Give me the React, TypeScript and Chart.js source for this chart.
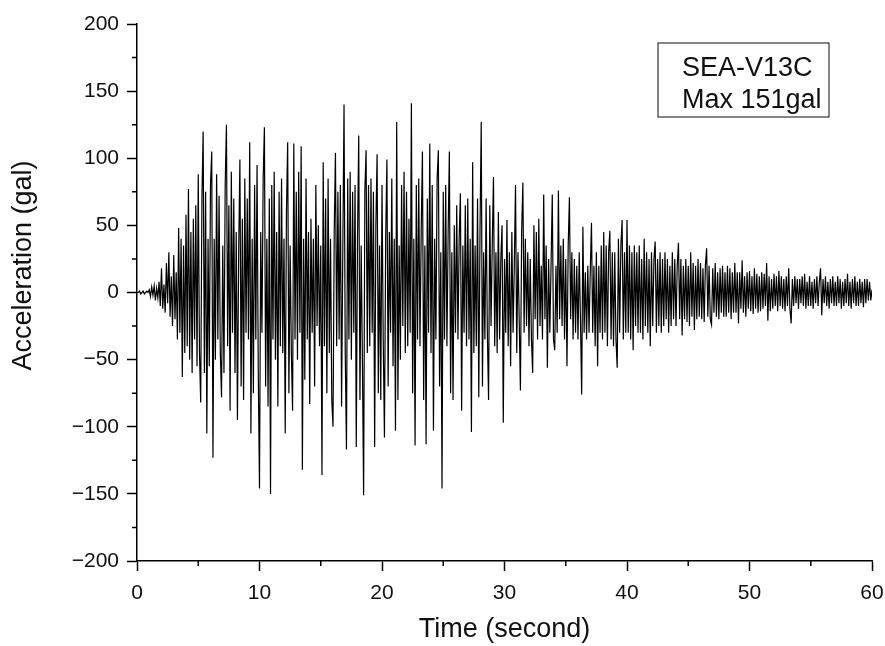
import React, { useEffect, useRef } from 'react';
import { Chart, registerables } from 'chart.js';

Chart.register(...registerables);

// sampling interval of the record (seconds)
const sampleInterval = 0.1;

// acceleration samples (gal), one row per second
const acceleration: number[] = [
  0, 0, 1, -1, 0, 1, -1, 0, 1, 0,
  2, -3, 4, -2, 5, -6, 3, -4, 8, -10,
  18, -12, 6, -15, 22, -8, 30, -18, 12, -25,
  28, -20, 15, -35, 48, -30, 40, -63, 35, -45,
  58, -40, 77, -50, 45, -60, 55, -35, 65, -55,
  88, -45, -82, 70, 120, -60, 75, -105, 40, -55,
  80, 105, -123, 40, -50, 88, -35, 72, -45, -78,
  35, -60, 80, 125, -40, 65, -88, 90, -30, 70,
  -60, 45, -95, 30, 99, -70, 55, -80, 85, -30,
  70, -35, 112, -105, 40, -75, 80, -35, 95, -60,
  -146, 45, -30, 85, 123, -70, 40, -85, 70, -150,
  80, -35, 90, -50, 45, -85, 75, -40, 85, -45,
  40, -105, 60, 112, -75, 35, -45, -88, 111, -35,
  75, -50, 90, -30, 109, -132, 40, -65, 85, -35,
  45, -83, 55, -30, 40, -70, 80, -25, 50, -40,
  35, -136, 97, -40, 70, -75, 85, -45, 40, -80,
  -100, 45, 104, -40, 75, -35, 80, -85, 30, 140,
  -45, -117, 85, -35, 90, -50, 75, -30, 80, -115,
  40, 117, -80, 35, -50, -151, 75, 106, -45, 80,
  -40, 85, -30, 75, -115, 50, 103, -75, 35, -80,
  80, -35, -108, 40, 99, -70, 45, -30, 85, -55,
  40, -103, 127, -80, 35, -50, 80, -25, 90, -45,
  75, -40, 55, -30, 141, -75, 40, -114, 80, -35,
  85, -40, 45, 105, -80, 35, -113, 70, -30, 111,
  -45, 80, -103, 40, -35, 85, 106, -70, 30, -146,
  75, -35, 80, -40, 45, 105, -75, 30, -80, 50,
  -30, 65, -35, 40, 74, -88, 35, -30, 65, -40,
  70, -35, 40, -104, 97, -45, 35, -40, 70, -78,
  45, 127, -70, 30, -35, 70, -30, -80, 65, -25,
  35, 86, -40, 30, -45, 60, -35, 25, 50, -97,
  25, -30, 54, -40, 30, -55, 45, -30, 20, 80,
  -45, 30, -20, -73, 45, 82, -30, 40, -25, 30,
  -40, 25, -35, -60, 50, -20, 45, -35, 55, -25,
  20, -35, 73, -20, 35, -56, 25, -30, 20, 73,
  -35, -43, 20, -30, 76, -20, 35, -25, 40, -35,
  25, -55, 35, 71, -20, 30, -35, 25, -30, 20,
  -35, 30, -20, -76, 49, -30, 15, -35, 20, -30,
  15, 52, -30, 20, -40, 30, -55, 20, -30, 35,
  -35, 45, -30, 35, -40, 30, 46, -35, 30, -40,
  30, -35, -56, 40, -30, 35, 54, -35, 30, -30,
  54, -30, 35, -35, 30, -43, 35, -25, 30, -30,
  35, -30, 25, -35, 40, -25, 30, -30, 25, -40,
  30, -25, 25, 38, -30, 25, -25, 30, -30, 25,
  -25, 30, -20, 25, -30, 20, -25, 30, -20, 25,
  -25, 20, 37, -20, 25, -32, 20, -20, 25, -22,
  20, -25, 30, -18, 22, -28, 20, -20, 25, -18,
  22, -20, 18, -22, 20, 33, -18, 20, -20, -24,
  18, -15, 22, -18, 15, -20, 18, -15, 20, -18,
  15, -18, 20, -15, 18, -20, 15, -15, 22, -15,
  15, -23, 15, -12, 24, -15, 12, -18, 15, -12,
  16, -14, 12, -16, 18, -12, 14, -15, 12, -14,
  15, -12, 14, -10, 22, -21, 12, -14, 10, -12,
  14, -10, 12, -14, 16, -10, 12, -12, 10, -14,
  12, -10, 18, -12, -23, 10, -10, 12, -8, 10,
  -12, 10, -8, 12, -10, 14, -12, 8, -10, 12,
  -10, 8, -12, 10, -8, 12, -10, 8, 18, -17,
  10, -8, 12, -10, 8, -12, 10, -8, 12, -10,
  8, -10, 12, -8, 10, -12, 8, -10, 10, -8,
  14, -10, 8, -12, 10, -8, 12, -10, 8, -10,
  10, -8, 8, -11, 10, -8, 10, -6, 8, -6,
  2,
];

const xMin = 0;
const xMax = 60;
const xStep = 10;
const yMin = -200;
const yMax = 200;
const yStep = 50;

const xTitle = 'Time (second)';
const yTitle = 'Acceleration (gal)';
const stationName = 'SEA-V13C';
const maxLabel = 'Max 151gal';

const FONT = '"Liberation Sans", Arial, Helvetica, sans-serif';

const minorTicks = {
  id: 'minorTicks',
  afterDraw(chart: any) {
    const { ctx, scales } = chart;
    const xs = scales.x;
    const ys = scales.y;
    ctx.save();
    ctx.strokeStyle = '#000';
    ctx.lineWidth = 1.5;
    ctx.beginPath();
    for (let v = yMin + yStep / 2; v < yMax; v += yStep) {
      const y = ys.getPixelForValue(v);
      ctx.moveTo(xs.left - 5, y);
      ctx.lineTo(xs.left, y);
    }
    for (let v = xMin + xStep / 2; v < xMax; v += xStep) {
      const x = xs.getPixelForValue(v);
      ctx.moveTo(x, ys.bottom);
      ctx.lineTo(x, ys.bottom + 5);
    }
    ctx.stroke();
    ctx.restore();
  },
};

// y-axis title, drawn slightly above the plot centre as in the original figure
const yAxisTitle = {
  id: 'yAxisTitle',
  afterDraw(chart: any) {
    const { ctx, chartArea } = chart;
    const cy = (chartArea.top + chartArea.bottom) / 2 - 27;
    ctx.save();
    ctx.translate(24, cy);
    ctx.rotate(-Math.PI / 2);
    ctx.fillStyle = '#111';
    ctx.font = `27px ${FONT}`;
    ctx.textAlign = 'center';
    ctx.textBaseline = 'middle';
    ctx.fillText(yTitle, 0, 0);
    ctx.restore();
  },
};

const infoBox = {
  id: 'infoBox',
  afterDraw(chart: any) {
    const { ctx, chartArea } = chart;
    const w = 171;
    const h = 74;
    const left = chartArea.right - 43 - w;
    const top = chartArea.top + 19;
    ctx.save();
    ctx.fillStyle = '#fff';
    ctx.fillRect(left, top, w, h);
    ctx.strokeStyle = '#333';
    ctx.lineWidth = 1.2;
    ctx.strokeRect(left, top, w, h);
    ctx.fillStyle = '#111';
    ctx.font = `27px ${FONT}`;
    ctx.textBaseline = 'alphabetic';
    ctx.textAlign = 'left';
    ctx.fillText(stationName, left + 24, top + 33);
    ctx.fillText(maxLabel, left + 24, top + 65);
    ctx.restore();
  },
};

export default function App() {
  const ref = useRef<HTMLCanvasElement | null>(null);

  useEffect(() => {
    if (!ref.current) return;
    const points = acceleration.map((v, i) => ({ x: i * sampleInterval, y: v }));
    const chart = new Chart(ref.current, {
      type: 'line',
      data: {
        datasets: [
          {
            data: points,
            borderColor: '#000',
            borderWidth: 1.2,
            pointRadius: 0,
            tension: 0,
            fill: false,
          },
        ],
      },
      options: {
        animation: false,
        responsive: false,
        maintainAspectRatio: false,
        parsing: false,
        normalized: true,
        layout: { padding: { left: 0, top: 24, right: 13, bottom: 0 } },
        plugins: {
          legend: { display: false },
          tooltip: { enabled: false },
          title: { display: false },
        },
        scales: {
          x: {
            type: 'linear',
            min: xMin,
            max: xMax,
            afterFit(scale: any) {
              scale.height = 85;
              scale.paddingLeft = 0;
              scale.paddingRight = 0;
            },
            ticks: {
              stepSize: xStep,
              color: '#111',
              font: { family: FONT, size: 21 },
              padding: 10,
              maxRotation: 0,
            },
            grid: {
              display: true,
              drawOnChartArea: false,
              drawTicks: true,
              tickLength: 10,
              tickWidth: 1.5,
              tickColor: '#000',
            },
            border: { display: true, color: '#000', width: 1.5 },
            title: {
              display: true,
              text: xTitle,
              color: '#111',
              font: { family: FONT, size: 27 },
              padding: { top: 0, bottom: 0 },
            },
          },
          y: {
            type: 'linear',
            min: yMin,
            max: yMax,
            afterFit(scale: any) {
              scale.width = 137;
              scale.paddingTop = 0;
              scale.paddingBottom = 0;
            },
            ticks: {
              stepSize: yStep,
              color: '#111',
              font: { family: FONT, size: 21 },
              padding: 8,
              callback: (v: any) => (Number(v) < 0 ? '\u2212' + Math.abs(Number(v)) : String(v)),
            },
            grid: {
              display: true,
              drawOnChartArea: false,
              drawTicks: true,
              tickLength: 10,
              tickWidth: 1.5,
              tickColor: '#000',
            },
            border: { display: true, color: '#000', width: 1.5 },
            title: { display: false },
          },
        },
      },
      plugins: [minorTicks, yAxisTitle, infoBox],
    });
    return () => chart.destroy();
  }, []);

  return (
    <div style={{ position: 'absolute', left: 0, top: 0, width: 885, height: 646, background: '#fff' }}>
      <canvas ref={ref} width={885} height={646} style={{ display: 'block', width: 885, height: 646 }} />
    </div>
  );
}
